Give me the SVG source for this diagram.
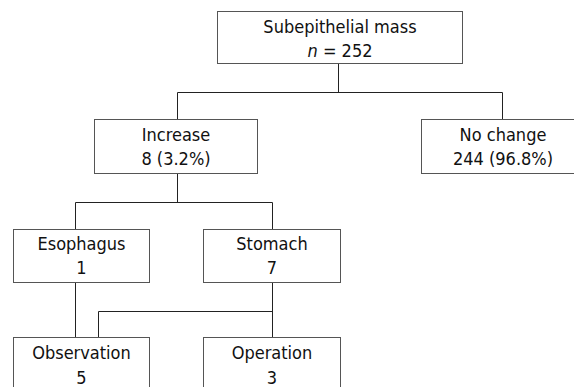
<svg xmlns="http://www.w3.org/2000/svg" width="574" height="387" viewBox="0 0 574 387">
  <style>
    .box { fill: #ffffff; stroke: #555555; stroke-width: 1; }
    .conn { fill: none; stroke: #222222; stroke-width: 1; }
    text { font-family: "DejaVu Sans Condensed", "DejaVu Sans", sans-serif; font-stretch: condensed; font-size: 18px; fill: #111111; text-anchor: middle; }
  </style>
  <rect x="0" y="0" width="574" height="387" fill="#ffffff"/>
  <g id="connectors">
    <path class="conn" d="M338.5 63.5 V92.5 M177.5 119.5 V92.5 H502.5 V119.5"/>
    <path class="conn" d="M177.5 173.5 V202.5 M75.5 229.5 V202.5 H272.5 V229.5"/>
    <path class="conn" d="M75.5 282.5 V337.5"/>
    <path class="conn" d="M272.5 282.5 V337.5 M272.5 311.5 H98.5 V337.5"/>
  </g>
  <g id="node-root">
    <rect class="box" x="217.5" y="11.5" width="245" height="52"/>
    <text x="340" y="33">Subepithelial mass</text>
    <text x="340" y="57"><tspan font-style="italic">n</tspan> = 252</text>
  </g>
  <g id="node-increase">
    <rect class="box" x="94.5" y="119.5" width="163" height="54"/>
    <text x="176" y="141">Increase</text>
    <text x="176" y="165">8 (3.2%)</text>
  </g>
  <g id="node-nochange">
    <rect class="box" x="421.5" y="119.5" width="163" height="54"/>
    <text x="503" y="141">No change</text>
    <text x="503" y="165">244 (96.8%)</text>
  </g>
  <g id="node-esophagus">
    <rect class="box" x="13.5" y="229.5" width="136" height="53"/>
    <text x="81.5" y="250">Esophagus</text>
    <text x="81.5" y="274">1</text>
  </g>
  <g id="node-stomach">
    <rect class="box" x="203.5" y="229.5" width="137" height="53"/>
    <text x="272" y="250">Stomach</text>
    <text x="272" y="274">7</text>
  </g>
  <g id="node-observation">
    <rect class="box" x="13.5" y="337.5" width="136" height="54"/>
    <text x="81.5" y="359">Observation</text>
    <text x="81.5" y="384">5</text>
  </g>
  <g id="node-operation">
    <rect class="box" x="203.5" y="337.5" width="137" height="54"/>
    <text x="272" y="359">Operation</text>
    <text x="272" y="384">3</text>
  </g>
</svg>
